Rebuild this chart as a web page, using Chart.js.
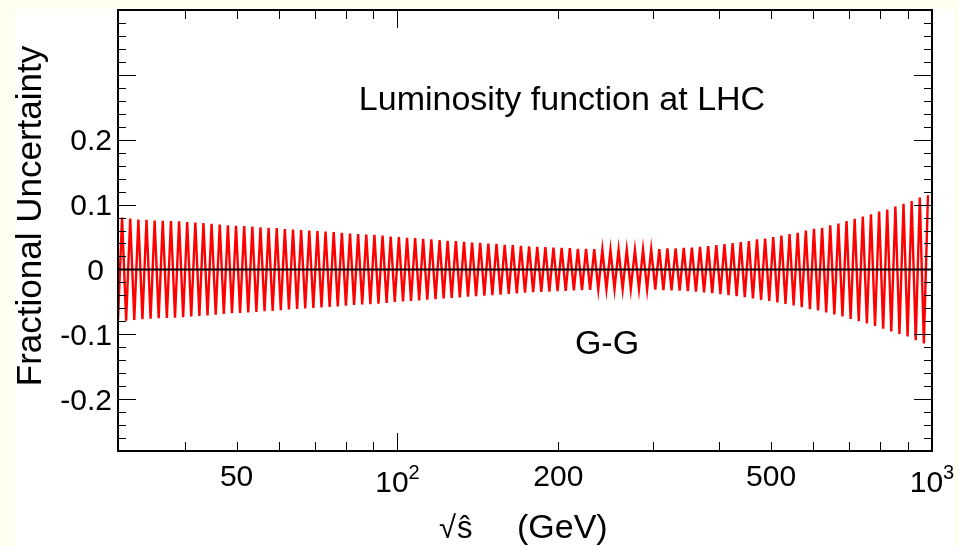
<!DOCTYPE html>
<html>
<head>
<meta charset="utf-8">
<script src="https://cdn.jsdelivr.net/npm/chart.js@4.4.0/dist/chart.umd.min.js"></script>
<style>
  html, body { margin: 0; padding: 0; background: #fffff0; }
  canvas { display: block; }
</style>
</head>
<body>
<canvas id="lumiChart" width="959" height="546"></canvas>
<script>
// sqrt(s-hat) in GeV at each vertex of the drawn curve
const sqrtS = [
  30.00, 30.53, 31.07, 31.62, 32.18, 32.75, 33.33, 33.92, 34.52, 35.13,
  35.75, 36.38, 37.03, 37.68, 38.35, 39.03, 39.72, 40.42, 41.13, 41.86,
  42.60, 43.35, 44.12, 44.90, 45.70, 46.50, 47.33, 48.16, 49.02, 49.88,
  50.76, 51.66, 52.58, 53.51, 54.45, 55.42, 56.40, 57.39, 58.41, 59.44,
  60.49, 61.56, 62.65, 63.76, 64.89, 66.03, 67.20, 68.39, 69.60, 70.83,
  72.09, 73.36, 74.66, 75.98, 77.32, 78.69, 80.08, 81.50, 82.94, 84.41,
  85.90, 87.42, 88.97, 90.54, 92.14, 93.77, 95.43, 97.12, 98.83, 100.6,
  102.4, 104.2, 106.0, 107.9, 109.8, 111.7, 113.7, 115.7, 117.8, 119.9,
  122.0, 124.1, 126.3, 128.6, 130.8, 133.2, 135.5, 137.9, 140.3, 142.8,
  145.4, 147.9, 150.5, 153.2, 155.9, 158.7, 161.5, 164.3, 167.2, 170.2,
  173.2, 176.3, 179.4, 182.6, 185.8, 189.1, 192.4, 195.8, 199.3, 202.8,
  206.4, 210.1, 213.8, 217.5, 221.4, 225.3, 229.3, 233.4, 237.5, 241.7,
  246.0, 250.3, 254.7, 259.2, 263.8, 268.5, 273.2, 278.1, 283.0, 288.0,
  293.1, 298.3, 303.6, 308.9, 314.4, 319.9, 325.6, 331.4, 337.2, 343.2,
  349.3, 355.4, 361.7, 368.1, 374.6, 381.3, 388.0, 394.9, 401.9, 409.0,
  416.2, 423.6, 431.0, 438.7, 446.4, 454.3, 462.4, 470.5, 478.9, 487.3,
  496.0, 504.7, 513.7, 522.7, 532.0, 541.4, 551.0, 560.7, 570.6, 580.7,
  591.0, 601.4, 612.1, 622.9, 633.9, 645.1, 656.6, 668.2, 680.0, 692.0,
  704.3, 716.7, 729.4, 742.3, 755.4, 768.8, 782.4, 796.2, 810.3, 824.6,
  839.2, 854.1, 869.2, 884.5, 900.2, 916.1, 932.3, 948.8, 965.6, 982.7
];

// fractional uncertainty, the curve swings between -u and +u
const fracUnc = [
  -0.0785, 0.080, -0.079, 0.0785, -0.0778, 0.077, -0.0768, 0.0765, -0.076, 0.0755,
  -0.0753, 0.075, -0.0748, 0.0745, -0.0743, 0.074, -0.0735, 0.073, -0.0727, 0.0723,
  -0.0718, 0.0713, -0.0708, 0.0703, -0.0698, 0.0692, -0.0687, 0.0682, -0.0677, 0.0672,
  -0.067, 0.0667, -0.0665, 0.0662, -0.0657, 0.0651, -0.0646, 0.0641, -0.0639, 0.0636,
  -0.0629, 0.0621, -0.0618, 0.0615, -0.061, 0.0605, -0.0603, 0.060, -0.0595, 0.059,
  -0.0588, 0.0585, -0.058, 0.0574, -0.0569, 0.0564, -0.0559, 0.0554, -0.0549, 0.0544,
  -0.0541, 0.0538, -0.0536, 0.0533, -0.0528, 0.0523, -0.0516, 0.0508, -0.0503, 0.0497,
  -0.0492, 0.0487, -0.0485, 0.0482, -0.0477, 0.0472, -0.0467, 0.0462, -0.0457, 0.0451,
  -0.0446, 0.0441, -0.0439, 0.0436, -0.0431, 0.0426, -0.0421, 0.0415, -0.0413, 0.041,
  -0.0405, 0.040, -0.0398, 0.0395, -0.0388, 0.038, -0.0377, 0.0374, -0.0369, 0.0364,
  -0.0359, 0.0354, -0.0352, 0.0349, -0.0347, 0.0344, -0.0341, 0.0338, -0.0336, 0.0333,
  -0.0331, 0.0328, -0.0323, 0.0318, -0.0318, 0.0318, -0.0316, 0.0313, -0.0311, 0.0308,
  -0.0306, 0.0303, -0.0303, 0.0303, -0.0303, 0.0303, -0.0303, 0.0303, -0.0306, 0.0308,
  -0.0311, 0.0313, -0.0313, 0.0313, -0.0318, 0.0323, -0.0323, 0.0323, -0.0328, 0.0333,
  -0.0336, 0.0338, -0.0344, 0.0349, -0.0354, 0.0359, -0.0367, 0.0374, -0.0382, 0.039,
  -0.0398, 0.0405, -0.0413, 0.042, -0.0428, 0.0436, -0.0449, 0.0462, -0.047, 0.0477,
  -0.0487, 0.0497, -0.051, 0.0523, -0.0534, 0.0544, -0.0554, 0.0564, -0.0582, 0.060,
  -0.0613, 0.0626, -0.0634, 0.0641, -0.0662, 0.0682, -0.0695, 0.0708, -0.0726, 0.0744,
  -0.0762, 0.078, -0.0798, 0.0815, -0.0833, 0.0851, -0.0872, 0.0892, -0.0913, 0.0923,
  -0.0955, 0.0969, -0.0995, 0.101, -0.1035, 0.1056, -0.109, 0.1108, -0.1143, 0.1144
];

// axis labels
const yTickValues = [-0.2, -0.1, 0, 0.1, 0.2];
const yTickLabels = ["-0.2", "-0.1", "0", "0.1", "0.2"];
const xTickValues = [50, 100, 200, 500, 1000];
const xTickBase = ["50", "10", "200", "500", "10"];
const xTickExp = ["", "2", "", "", "3"];

const FONT = '"Liberation Sans", Arial, Helvetica, sans-serif';

// ROOT-like frame: inward ticks on all four sides, labels and texts
const rootFrame = {
  id: "rootFrame",
  beforeDraw(chart) {
    const ctx = chart.ctx;
    ctx.save();
    ctx.fillStyle = "#fffff0";
    ctx.fillRect(0, 0, chart.width, chart.height);
    ctx.fillStyle = "#ffffff";
    ctx.fillRect(15, 9, 939, 537);
    ctx.restore();
  },
  afterDraw(chart) {
    const ctx = chart.ctx;
    const ca = chart.chartArea;
    const xs = chart.scales.x;
    const ys = chart.scales.y;
    ctx.save();
    ctx.strokeStyle = "#000";
    ctx.fillStyle = "#000";

    // ticks
    ctx.lineWidth = 1;
    ctx.beginPath();
    for (const dec of [10, 100]) {
      for (let m = 1; m <= 9; m++) {
        const v = m * dec;
        if (v <= 30) continue;
        const px = Math.round(xs.getPixelForValue(v)) + 0.5;
        const len = m === 1 ? 18 : 9;
        ctx.moveTo(px, ca.bottom); ctx.lineTo(px, ca.bottom - len);
        ctx.moveTo(px, ca.top); ctx.lineTo(px, ca.top + len);
      }
    }
    for (let i = -13; i <= 19; i++) {
      const py = Math.round(ys.getPixelForValue(i * 0.02)) + 0.5;
      const len = i % 5 === 0 ? 18 : 8;
      ctx.moveTo(ca.left, py); ctx.lineTo(ca.left + len, py);
      ctx.moveTo(ca.right, py); ctx.lineTo(ca.right - len, py);
    }
    ctx.stroke();

    // frame
    ctx.lineWidth = 2;
    ctx.strokeRect(ca.left, ca.top, ca.right - ca.left, ca.bottom - ca.top);

    // y labels
    ctx.font = "30px " + FONT;
    ctx.textAlign = "right";
    ctx.textBaseline = "alphabetic";
    yTickValues.forEach((v, i) => {
      const py = ys.getPixelForValue(v);
      const right = v === 0 ? 104 : 112;
      ctx.fillText(yTickLabels[i], right, py + 10.7);
    });

    // x labels
    xTickValues.forEach((v, i) => {
      const px = xs.getPixelForValue(v);
      if (xTickExp[i]) {
        ctx.font = "30px " + FONT;
        const wb = ctx.measureText(xTickBase[i]).width;
        ctx.font = "20px " + FONT;
        const we = ctx.measureText(xTickExp[i]).width;
        const left = px - (wb + we) / 2;
        ctx.textAlign = "left";
        ctx.font = "30px " + FONT;
        ctx.fillText(xTickBase[i], left, 492);
        ctx.font = "20px " + FONT;
        ctx.fillText(xTickExp[i], left + wb, 479);
      } else {
        ctx.font = "30px " + FONT;
        ctx.textAlign = "center";
        ctx.fillText(xTickBase[i], px, 486);
      }
    });

    // axis titles
    ctx.font = "34px " + FONT;
    ctx.textAlign = "left";
    ctx.fillText("(GeV)", 517, 538);
    ctx.font = "31px " + FONT;
    ctx.fillText("\u221A", 439, 538);
    ctx.fillText("\u015D", 457, 538);

    ctx.save();
    ctx.translate(41, 216);
    ctx.rotate(-Math.PI / 2);
    ctx.font = "35px " + FONT;
    ctx.textAlign = "center";
    ctx.fillText("Fractional Uncertainty", 0, 0);
    ctx.restore();

    // in-plot texts
    ctx.font = "34px " + FONT;
    ctx.textAlign = "center";
    ctx.fillText("Luminosity function at LHC", 562, 110);
    ctx.fillText("G-G", 607, 354);

    ctx.restore();
  }
};

new Chart(document.getElementById("lumiChart"), {
  type: "line",
  data: {
    datasets: [
      {
        data: sqrtS.map((s, i) => ({ x: s, y: fracUnc[i] })),
        borderColor: "#ff0000",
        borderWidth: 2.4,
        pointRadius: 0,
        tension: 0,
        order: 2
      },
      {
        data: [{ x: 30, y: 0 }, { x: 1000, y: 0 }],
        borderColor: "#000000",
        borderWidth: 2,
        pointRadius: 0,
        order: 1
      }
    ]
  },
  options: {
    responsive: false,
    animation: false,
    devicePixelRatio: 1,
    layout: { padding: { left: 0, right: 27, top: 10, bottom: 0 } },
    plugins: { legend: { display: false }, tooltip: { enabled: false } },
    scales: {
      x: {
        type: "logarithmic",
        min: 30,
        max: 1000,
        ticks: { display: false },
        grid: { display: false },
        border: { display: false },
        afterFit: s => { s.height = 95; }
      },
      y: {
        type: "linear",
        min: -0.28,
        max: 0.4,
        ticks: { display: false },
        grid: { display: false },
        border: { display: false },
        afterFit: s => { s.width = 118; }
      }
    }
  },
  plugins: [rootFrame]
});
</script>
</body>
</html>
